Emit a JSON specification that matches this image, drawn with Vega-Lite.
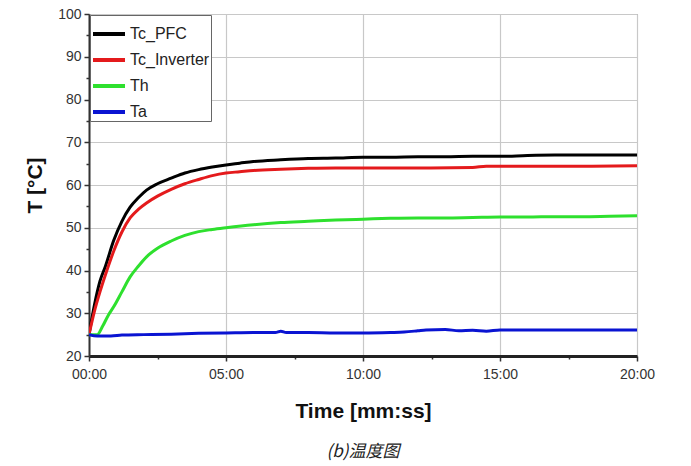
{
  "$schema": "https://vega.github.io/schema/vega-lite/v6.json",
  "width": 548,
  "height": 342,
  "autosize": "none",
  "padding": {"left": 89, "top": 14, "right": 54, "bottom": 110},
  "background": "white",
  "title": {"text": "(b)温度图", "orient": "bottom", "fontStyle": "italic", "fontWeight": "normal", "fontSize": 17, "font": "Noto Sans CJK SC", "color": "#222", "offset": 23, "anchor": "middle"},
  "config": {
    "view": {"stroke": "#888", "strokeWidth": 1},
    "axis": {"labelFont": "Liberation Sans", "titleFont": "Liberation Sans", "labelColor": "#333", "titleColor": "#111", "gridColor": "#c8c8c8", "gridWidth": 1.2}
  },
  "data": {"values": [
    {"t":0,"v":25,"s":"Tc_PFC"},{"t":0.2,"v":32,"s":"Tc_PFC"},{"t":0.4,"v":37.5,"s":"Tc_PFC"},{"t":0.6,"v":41,"s":"Tc_PFC"},{"t":0.9,"v":47,"s":"Tc_PFC"},{"t":1.2,"v":51.5,"s":"Tc_PFC"},{"t":1.5,"v":54.8,"s":"Tc_PFC"},{"t":1.8,"v":57,"s":"Tc_PFC"},{"t":2.1,"v":58.8,"s":"Tc_PFC"},{"t":2.5,"v":60.3,"s":"Tc_PFC"},{"t":3,"v":61.6,"s":"Tc_PFC"},{"t":3.5,"v":62.8,"s":"Tc_PFC"},{"t":4,"v":63.6,"s":"Tc_PFC"},{"t":4.5,"v":64.2,"s":"Tc_PFC"},{"t":5,"v":64.7,"s":"Tc_PFC"},{"t":5.5,"v":65.1,"s":"Tc_PFC"},{"t":6,"v":65.5,"s":"Tc_PFC"},{"t":7,"v":65.9,"s":"Tc_PFC"},{"t":8,"v":66.2,"s":"Tc_PFC"},{"t":9,"v":66.3,"s":"Tc_PFC"},{"t":10,"v":66.5,"s":"Tc_PFC"},{"t":11,"v":66.5,"s":"Tc_PFC"},{"t":12,"v":66.6,"s":"Tc_PFC"},{"t":13,"v":66.6,"s":"Tc_PFC"},{"t":14,"v":66.7,"s":"Tc_PFC"},{"t":15,"v":66.7,"s":"Tc_PFC"},{"t":16,"v":66.9,"s":"Tc_PFC"},{"t":17,"v":67,"s":"Tc_PFC"},{"t":18,"v":67,"s":"Tc_PFC"},{"t":19,"v":67,"s":"Tc_PFC"},{"t":20,"v":67,"s":"Tc_PFC"},
    {"t":0,"v":25,"s":"Tc_Inverter"},{"t":0.2,"v":30.5,"s":"Tc_Inverter"},{"t":0.4,"v":35,"s":"Tc_Inverter"},{"t":0.6,"v":39,"s":"Tc_Inverter"},{"t":0.9,"v":44.5,"s":"Tc_Inverter"},{"t":1.2,"v":49,"s":"Tc_Inverter"},{"t":1.5,"v":52.3,"s":"Tc_Inverter"},{"t":1.8,"v":54.3,"s":"Tc_Inverter"},{"t":2.1,"v":55.8,"s":"Tc_Inverter"},{"t":2.5,"v":57.4,"s":"Tc_Inverter"},{"t":3,"v":59,"s":"Tc_Inverter"},{"t":3.5,"v":60.3,"s":"Tc_Inverter"},{"t":4,"v":61.3,"s":"Tc_Inverter"},{"t":4.5,"v":62.2,"s":"Tc_Inverter"},{"t":5,"v":62.8,"s":"Tc_Inverter"},{"t":5.5,"v":63.1,"s":"Tc_Inverter"},{"t":6,"v":63.4,"s":"Tc_Inverter"},{"t":7,"v":63.7,"s":"Tc_Inverter"},{"t":8,"v":63.9,"s":"Tc_Inverter"},{"t":9,"v":64,"s":"Tc_Inverter"},{"t":10,"v":64,"s":"Tc_Inverter"},{"t":12,"v":64,"s":"Tc_Inverter"},{"t":14,"v":64.1,"s":"Tc_Inverter"},{"t":14.5,"v":64.4,"s":"Tc_Inverter"},{"t":16,"v":64.4,"s":"Tc_Inverter"},{"t":18,"v":64.4,"s":"Tc_Inverter"},{"t":20,"v":64.5,"s":"Tc_Inverter"},
    {"t":0,"v":25,"s":"Th"},{"t":0.3,"v":25,"s":"Th"},{"t":0.5,"v":27,"s":"Th"},{"t":0.7,"v":29.5,"s":"Th"},{"t":0.9,"v":31.5,"s":"Th"},{"t":1.2,"v":35,"s":"Th"},{"t":1.5,"v":38.5,"s":"Th"},{"t":1.8,"v":41,"s":"Th"},{"t":2.1,"v":43.2,"s":"Th"},{"t":2.5,"v":45.2,"s":"Th"},{"t":3,"v":46.9,"s":"Th"},{"t":3.5,"v":48.2,"s":"Th"},{"t":4,"v":49.1,"s":"Th"},{"t":4.5,"v":49.6,"s":"Th"},{"t":5,"v":50,"s":"Th"},{"t":6,"v":50.7,"s":"Th"},{"t":7,"v":51.2,"s":"Th"},{"t":8,"v":51.5,"s":"Th"},{"t":9,"v":51.8,"s":"Th"},{"t":10,"v":52,"s":"Th"},{"t":11,"v":52.2,"s":"Th"},{"t":12,"v":52.3,"s":"Th"},{"t":13,"v":52.3,"s":"Th"},{"t":14,"v":52.4,"s":"Th"},{"t":15,"v":52.5,"s":"Th"},{"t":16,"v":52.5,"s":"Th"},{"t":17,"v":52.6,"s":"Th"},{"t":18,"v":52.6,"s":"Th"},{"t":19,"v":52.7,"s":"Th"},{"t":20,"v":52.8,"s":"Th"},
    {"t":0,"v":25,"s":"Ta"},{"t":0.3,"v":24.7,"s":"Ta"},{"t":0.8,"v":24.7,"s":"Ta"},{"t":1.2,"v":24.9,"s":"Ta"},{"t":2,"v":25,"s":"Ta"},{"t":3,"v":25.1,"s":"Ta"},{"t":4,"v":25.3,"s":"Ta"},{"t":5,"v":25.4,"s":"Ta"},{"t":6,"v":25.5,"s":"Ta"},{"t":6.8,"v":25.5,"s":"Ta"},{"t":7,"v":25.8,"s":"Ta"},{"t":7.2,"v":25.5,"s":"Ta"},{"t":8,"v":25.5,"s":"Ta"},{"t":9,"v":25.4,"s":"Ta"},{"t":10,"v":25.4,"s":"Ta"},{"t":11,"v":25.5,"s":"Ta"},{"t":11.5,"v":25.6,"s":"Ta"},{"t":12,"v":25.9,"s":"Ta"},{"t":12.3,"v":26.1,"s":"Ta"},{"t":13,"v":26.2,"s":"Ta"},{"t":13.5,"v":25.9,"s":"Ta"},{"t":14,"v":26,"s":"Ta"},{"t":14.5,"v":25.8,"s":"Ta"},{"t":15,"v":26.1,"s":"Ta"},{"t":16,"v":26.1,"s":"Ta"},{"t":17,"v":26.1,"s":"Ta"},{"t":18,"v":26.1,"s":"Ta"},{"t":19,"v":26.1,"s":"Ta"},{"t":20,"v":26.1,"s":"Ta"}
  ]},
  "mark": {"type": "line", "strokeWidth": 3, "interpolate": "monotone", "clip": true},
  "encoding": {
    "x": {"field": "t", "type": "quantitative",
      "scale": {"domain": [0, 20], "nice": false, "zero": false},
      "axis": {"title": "Time [mm:ss]", "titleFontSize": 21, "titleFontWeight": "bold", "titlePadding": 19,
        "values": [0, 2.5, 5, 7.5, 10, 12.5, 15, 17.5, 20],
        "labelExpr": "datum.value % 5 === 0 ? ((datum.value < 10 ? '0' : '') + datum.value + ':00') : ''",
        "labelFontSize": 14, "labelPadding": 6, "labelFlush": false,
        "tickSize": {"condition": {"test": "datum.value % 5 !== 0", "value": 3}, "value": 5},
        "tickColor": "#333", "tickWidth": 1.5,
        "domainColor": "#222", "domainWidth": 3,
        "gridOpacity": {"condition": {"test": "datum.value % 5 !== 0", "value": 0}, "value": 1}}},
    "y": {"field": "v", "type": "quantitative",
      "scale": {"domain": [20, 100], "nice": false, "zero": false},
      "axis": {"title": "T [°C]", "titleFontSize": 21, "titleFontWeight": "bold", "titlePadding": 12,
        "values": [20, 25, 30, 35, 40, 45, 50, 55, 60, 65, 70, 75, 80, 85, 90, 95, 100],
        "labelExpr": "datum.value % 10 === 0 ? datum.value : ''",
        "labelFontSize": 14, "labelPadding": 3, "labelFlush": false,
        "tickSize": {"condition": {"test": "datum.value % 10 !== 0", "value": 3}, "value": 5},
        "tickColor": "#333", "tickWidth": 1.5,
        "domainColor": "#333", "domainWidth": 2,
        "gridOpacity": {"condition": {"test": "datum.value % 10 !== 0", "value": 0}, "value": 1}}},
    "color": {"field": "s", "type": "nominal",
      "scale": {"domain": ["Tc_PFC", "Tc_Inverter", "Th", "Ta"], "range": ["#000000", "#e41a1c", "#2ee02e", "#0a14d2"]},
      "legend": {"title": null, "orient": "top-left", "offset": 1, "symbolType": "stroke", "symbolSize": 1024, "symbolStrokeWidth": 4,
        "labelFont": "Liberation Sans", "labelFontSize": 16, "labelColor": "#222", "rowPadding": -7,
        "strokeColor": "#666", "fillColor": "white", "padding": 1, "labelOffset": 3}}
  }
}
